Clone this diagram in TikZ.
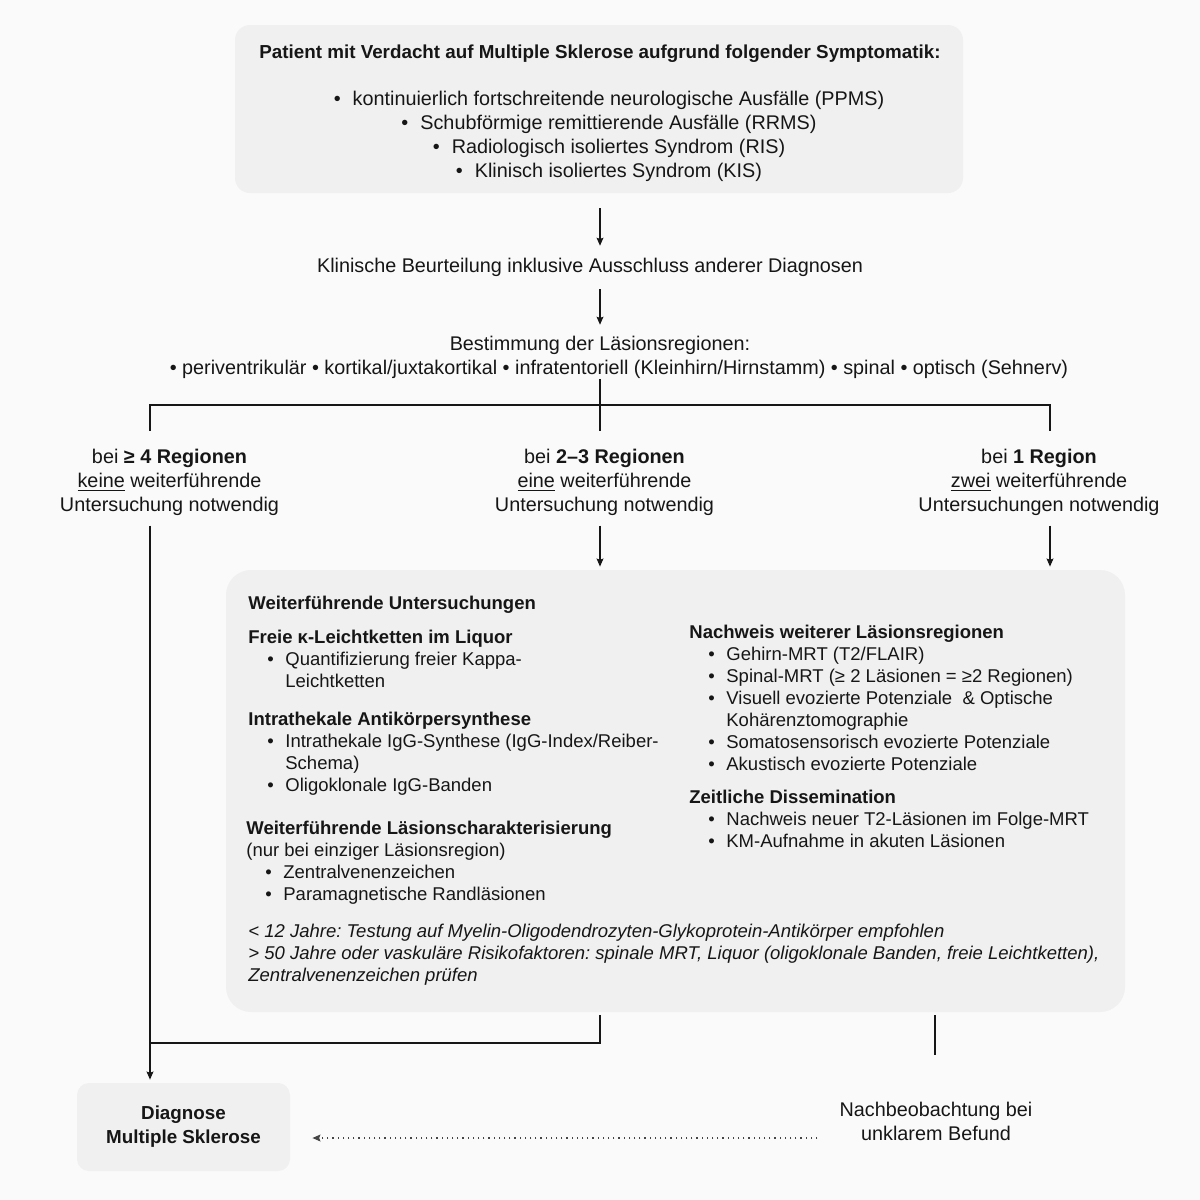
\documentclass[tikz,border=0pt]{standalone}
\usepackage{fontspec}
\setmainfont{Liberation Sans}
\usepackage{tikz}
\usetikzlibrary{arrows.meta}

\definecolor{bgcol}{RGB}{250,250,250}
\definecolor{boxcol}{RGB}{240,240,240}
\definecolor{inkcol}{RGB}{22,22,22}

\newcommand{\outfont}{\fontsize{9.9}{12}\selectfont}
\newcommand{\headfont}{\fontsize{9.4}{12}\selectfont\bfseries}
\newcommand{\boxfont}{\fontsize{9.25}{11}\selectfont}
\newcommand{\itm}{\makebox[18.5pt][r]{\textbullet\hspace{5.8pt}}}
\newcommand{\cnt}{\hspace*{18.5pt}}
\newcommand{\tbul}{\hspace*{9pt}\textbullet\hspace{6pt}}

\begin{document}
\frenchspacing
\begin{tikzpicture}[x=0.5pt, y=-0.5pt,
        graybox/.style={fill=boxcol, draw=none, rounded corners=7.5pt},
        outtext/.style={font=\outfont, align=center, inner sep=0pt, text=inkcol},
        boxtext/.style={font=\boxfont, align=left, inner sep=0pt, anchor=base west, text=inkcol},
        flow/.style={draw=inkcol, line width=0.6pt},
        flowarrow/.style={flow, -{Stealth[length=4pt, width=3.4pt, inset=0.6pt]}},
        dotarrow/.style={draw=inkcol!80, line width=0.6pt, dotted, -{Stealth[length=4pt, width=3.4pt, inset=0.6pt]}}]

        \fill [bgcol] (0,0) rectangle (1200,1200);
        \useasboundingbox (0,0) rectangle (1200,1200);

        % branch points
        \coordinate (hl) at (150,405);
        \coordinate (hm) at (600,405);
        \coordinate (hr) at (1050,405);
        \coordinate (jn) at (150,1043);
        \coordinate (nb) at (935,1055);

        % patient box (text nodes sit on the baseline of their last line)
        \node [graybox, minimum width=364pt, minimum height=84pt] (top) at (599,109) {};
        \node [outtext, anchor=base] (toptxt) at (600,177.5) {{\headfont Patient mit Verdacht auf Multiple Sklerose aufgrund folgender Symptomatik:}\\[11.5pt]
            \tbul kontinuierlich fortschreitende neurologische Ausfälle (PPMS)\\
            \tbul Schubförmige remittierende Ausfälle (RRMS)\\
            \tbul Radiologisch isoliertes Syndrom (RIS)\\
            \tbul Klinisch isoliertes Syndrom (KIS)};

        % clinical steps
        \node [outtext, anchor=base] (klin) at (590,272.5) {Klinische Beurteilung inklusive Ausschluss anderer Diagnosen};
        \node [outtext, anchor=base] (best) at (600,374.5) {Bestimmung der Läsionsregionen:\\
            \hspace*{19pt}\textbullet\ periventrikulär \textbullet\ kortikal/juxtakortikal \textbullet\ infratentoriell (Kleinhirn/Hirnstamm) \textbullet\ spinal \textbullet\ optisch (Sehnerv)};
        \draw [flowarrow, shorten <=7.5pt, shorten >=6pt] (top.south -| hm) -- (klin.north -| hm);
        \draw [flowarrow, shorten <=6pt, shorten >=5.5pt] (klin.south -| hm) -- (best.north -| hm);

        % three branches
        \node [outtext, anchor=base] (lab1) at (169.5,511.5) {bei \textbf{≥ 4 Regionen}\\\underline{keine} weiterführende\\Untersuchung notwendig};
        \node [outtext, anchor=base] (lab2) at (604.5,511.5) {bei \textbf{2--3 Regionen}\\\underline{eine} weiterführende\\Untersuchung notwendig};
        \node [outtext, anchor=base] (lab3) at (1039,511.5) {bei \textbf{1 Region}\\\underline{zwei} weiterführende\\Untersuchungen notwendig};
        \draw [flow, shorten >=9pt] (hm |- best.south) -- (hm |- lab2.north);
        \draw [flow, shorten <=9pt, shorten >=9pt] (hl |- lab1.north) -- (hl) -- (hr) -- (hr |- lab3.north);

        % further examinations
        \node [graybox, rounded corners=12.5pt, minimum width=449.5pt, minimum height=221pt] (big) at (675.5,791) {};
        \draw [flowarrow, shorten <=4.75pt, shorten >=1.5pt] (hm |- lab2.south) -- (hm |- big.north);
        \draw [flowarrow, shorten <=4.75pt, shorten >=1.5pt] (hr |- lab3.south) -- (hr |- big.north);

        \node [boxtext] (wu) at (248,609.5) {\textbf{Weiterführende Untersuchungen}};
        \node [boxtext] (kappa) at (248,687.5) {\textbf{Freie κ-Leichtketten im Liquor}\\
            \itm Quantifizierung freier Kappa-\\
            \cnt Leichtketten};
        \node [boxtext] (synth) at (248,791.5) {\textbf{Intrathekale Antikörpersynthese}\\
            \itm Intrathekale IgG-Synthese (IgG-Index/Reiber-\\
            \cnt Schema)\\
            \itm Oligoklonale IgG-Banden};
        \node [boxtext] (chara) at (246,900.5) {\textbf{Weiterführende Läsionscharakterisierung}\\
            (nur bei einziger Läsionsregion)\\
            \itm Zentralvenenzeichen\\
            \itm Paramagnetische Randläsionen};
        \node [boxtext] (regio) at (689,770.5) {\textbf{Nachweis weiterer Läsionsregionen}\\
            \itm Gehirn-MRT (T2/FLAIR)\\
            \itm Spinal-MRT (≥ 2 Läsionen = ≥2 Regionen)\\
            \itm Visuell evozierte Potenziale\ \ \& Optische\\
            \cnt Kohärenztomographie\\
            \itm Somatosensorisch evozierte Potenziale\\
            \itm Akustisch evozierte Potenziale};
        \node [boxtext] (dissem) at (689,847.5) {\textbf{Zeitliche Dissemination}\\
            \itm Nachweis neuer T2-Läsionen im Folge-MRT\\
            \itm KM-Aufnahme in akuten Läsionen};
        \node [boxtext, font=\boxfont\itshape] (note) at (248,981.5) {< 12 Jahre: Testung auf Myelin-Oligodendrozyten-Glykoprotein-Antikörper empfohlen\\
            > 50 Jahre oder vaskuläre Risikofaktoren: spinale MRT, Liquor (oligoklonale Banden, freie Leichtketten),\\
            Zentralvenenzeichen prüfen};

        % diagnosis and follow-up
        \node [graybox, rounded corners=6pt, minimum width=106.5pt, minimum height=44pt, font=\headfont, align=center, text=inkcol] (diag) at (183.5,1127) {Diagnose\\Multiple Sklerose};
        \node [outtext] (nach) at (936,1121) {Nachbeobachtung bei\\unklarem Befund};
        \draw [flowarrow, shorten <=4.75pt, shorten >=1.5pt] (hl |- lab1.south) -- (hl |- diag.north);
        \draw [flow, shorten <=1.5pt] (hm |- big.south) |- (jn);
        \draw [flow, shorten <=1.5pt] (nb |- big.south) -- (nb);
        \draw [dotarrow, shorten <=11pt, shorten >=11pt] ([yshift=-8.5pt]nach.west) -- ([yshift=-8.5pt]nach.west -| diag.east);

\end{tikzpicture}
\end{document}
